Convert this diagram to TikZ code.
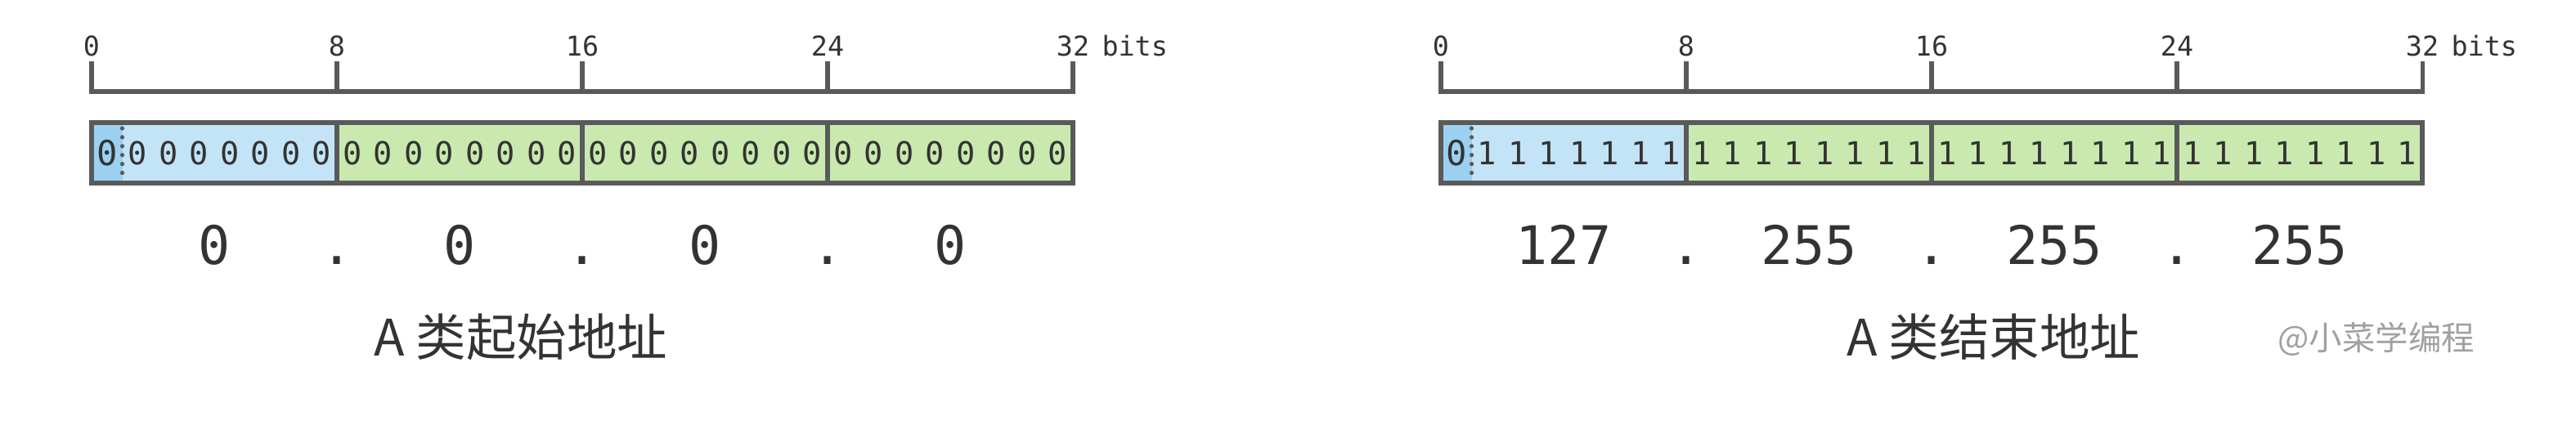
\documentclass[tikz,border=0pt]{standalone}
\usepackage{fontspec}
\setmainfont{DejaVu Sans Mono}
\newfontfamily\cjk{Noto Sans CJK SC}

\definecolor{edge}{HTML}{5A5A5A}
\definecolor{ink}{HTML}{333333}
\definecolor{signgray}{HTML}{A0A0A0}
\definecolor{bluedark}{HTML}{9BD0F1}
\definecolor{bluelight}{HTML}{C3E4F6}
\definecolor{greenbit}{HTML}{C9E9AF}

\tikzset{
  ruler/.style={edge, line width=1.45pt},
  frame/.style={edge, line width=1.7pt},
  ticklabel/.style={ink, inner sep=0pt, font=\fontsize{9.5}{10}\selectfont},
  bitlabel/.style={ink, inner sep=0pt, font=\fontsize{11}{12}\selectfont},
  iplabel/.style={ink, inner sep=0pt, anchor=base, font=\fontsize{18.5}{20}\selectfont},
  titlelabel/.style={ink, inner sep=0pt, anchor=base, font=\cjk\fontsize{17.5}{19}\selectfont},
}

\begin{document}
\begin{tikzpicture}
  \useasboundingbox (0,0) rectangle (31.5,-5.19);

  % ruler and 32-bit box, same for both sides
  \foreach \px/\pn in {1.12/a, 17.62/b}{
  \begin{scope}[xshift=\px cm]
    \draw[ruler] (0,-0.75) -- (0,-1.12) -- (12,-1.12) -- (12,-0.75);
    \foreach \t in {3,6,9} \draw[ruler] (\t,-0.75) -- (\t,-1.12);
    \foreach \t/\n in {0/0, 3/8, 6/16, 9/24, 12/32}
      \node[ticklabel, anchor=base] (\pn t\n) at (\t,-0.68) {\n};
    \node[ticklabel, anchor=base west] (\pn bits) at ([xshift=0.14cm]\pn t32.base east) {bits};

    \fill[bluedark] (0,-1.50) rectangle (0.375,-2.24);
    \fill[bluelight] (0.375,-1.50) rectangle (3,-2.24);
    \fill[greenbit] (3,-1.50) rectangle (12,-2.24);
    \draw[edge, line width=1.5pt, line cap=round, dash pattern=on 0pt off 3.1pt] (0.375,-1.57) -- (0.375,-2.19);
    \draw[frame] (0,-1.50) rectangle (12,-2.24);
    \foreach \t in {3,6,9} \draw[frame] (\t,-1.50) -- (\t,-2.24);
    \node[bitlabel, font=\fontsize{12}{13}\selectfont] (\pn bit0) at (0.19,-1.87) {0};
  \end{scope}
  }

  % start address
  \begin{scope}[xshift=1.12cm]
    \foreach \i in {1,...,31}
      \node[bitlabel] (abit\i) at (0.1875+0.375*\i,-1.87) {0};
    \node[iplabel] (aip0) at (1.5,-3.23) {0};
    \node[iplabel] (adot1) at (3,-3.23) {.};
    \node[iplabel] (aip1) at (4.5,-3.23) {0};
    \node[iplabel] (adot2) at (6,-3.23) {.};
    \node[iplabel] (aip2) at (7.5,-3.23) {0};
    \node[iplabel] (adot3) at (9,-3.23) {.};
    \node[iplabel] (aip3) at (10.5,-3.23) {0};
    \node[titlelabel] (atitle) at (5.25,-4.35) {A 类起始地址};
  \end{scope}

  % end address
  \begin{scope}[xshift=17.62cm]
    \foreach \i in {1,...,31}
      \node[bitlabel] (bbit\i) at (0.1875+0.375*\i,-1.87) {1};
    \node[iplabel] (bip0) at (1.5,-3.23) {127};
    \node[iplabel] (bdot1) at (3,-3.23) {.};
    \node[iplabel] (bip1) at (4.5,-3.23) {255};
    \node[iplabel] (bdot2) at (6,-3.23) {.};
    \node[iplabel] (bip2) at (7.5,-3.23) {255};
    \node[iplabel] (bdot3) at (9,-3.23) {.};
    \node[iplabel] (bip3) at (10.5,-3.23) {255};
    \node[titlelabel] (btitle) at (6.76,-4.35) {A 类结束地址};
  \end{scope}

  \node[signgray, inner sep=0pt, anchor=base west, font=\cjk\fontsize{11.5}{13}\selectfont] (sign) at (27.85,-4.28) {@小菜学编程};
\end{tikzpicture}
\end{document}
